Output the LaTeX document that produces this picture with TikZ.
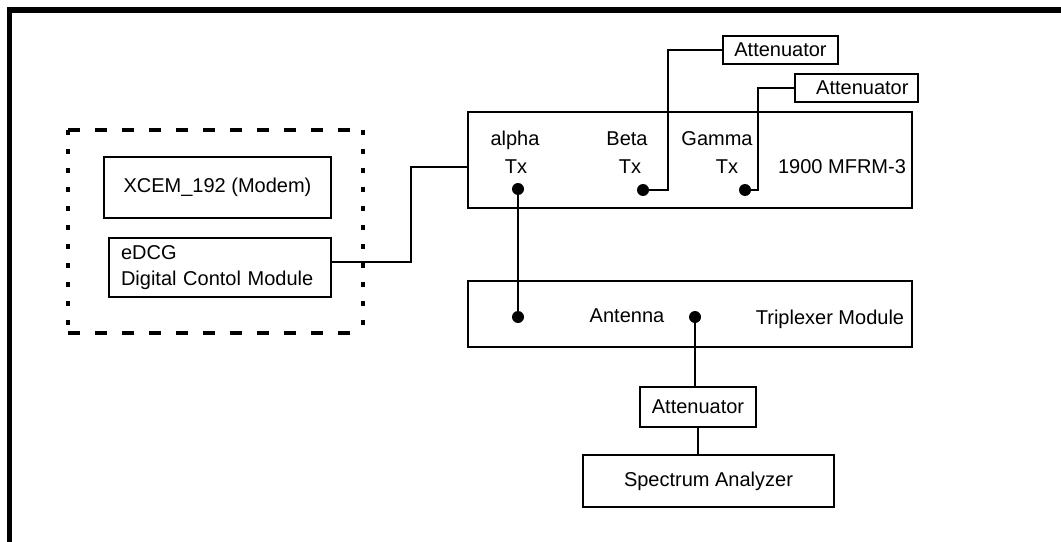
\documentclass[tikz,border=0pt]{standalone}
\usepackage{fontspec}
\setmainfont{Liberation Sans}
\usepackage{tikz}

\begin{document}
\begin{tikzpicture}[x=0.75pt,y=0.75pt,yscale=-1,xscale=1,
  every node/.style={font=\fontsize{15}{19.5}\selectfont},
  unit/.style={draw, line width=1.2pt, inner sep=0pt},
  port/.style={circle, fill, inner sep=0pt, minimum size=9pt},
  wire/.style={line width=1.2pt}]
\useasboundingbox (0,0) rectangle (1061,542);

%Shape: Frame
\fill (7,7) rectangle (1061,13);
\fill (7,7) rectangle (12,542);

%Shape: Dashed box
\draw [line width=2.6pt, dash pattern=on 9pt off 11.25pt] (68,130) -- (363,130) (68,333) -- (363,333);
\draw [line width=2.6pt, dash pattern=on 3.75pt off 10.5pt] (68,130) -- (68,333) (363,130) -- (363,333);

%Shape: Rectangle
\node [unit, minimum width=170.25pt, minimum height=45.75pt] (xcem) at (217.5,187.5) {XCEM\_192 (Modem)};
%Shape: Rectangle
\node [unit, minimum width=166.5pt, minimum height=44.25pt, inner xsep=9pt, text width=148.5pt, align=left] (edcg) at (220,267.5) {eDCG\\Digital Contol Module};
%Shape: Rectangle
\node [unit, minimum width=333pt, minimum height=72pt] (mfrm) at (690,160) {};
%Shape: Rectangle
\node [unit, minimum width=333pt, minimum height=49.5pt] (trip) at (690,314) {};
%Shape: Rectangle
\node [unit, minimum width=86.25pt, minimum height=21pt] (att1) at (780.5,50) {Attenuator};
%Shape: Rectangle
\node [unit, minimum width=92.25pt, minimum height=21pt, text width=78pt, align=right] (att2) at (856.5,88) {Attenuator};
%Shape: Rectangle
\node [unit, minimum width=87pt, minimum height=30pt] (att3) at (698,407) {Attenuator};
%Shape: Rectangle
\node [unit, minimum width=188.25pt, minimum height=39pt] (spec) at (708.5,481) {Spectrum Analyzer};

% Text Node
\node [anchor=base] (alpha) at (515,146) {alpha};
\node [anchor=base] (alphatx) at (516,173) {Tx};
% Text Node
\node [anchor=base] (beta) at (627,146) {Beta};
\node [anchor=base] (betatx) at (630,173) {Tx};
% Text Node
\node [anchor=base] (gamma) at (717,146) {Gamma};
\node [anchor=base] (gammatx) at (727,173) {Tx};
% Text Node
\node [anchor=base] (mfrmlbl) at (842,173) {1900 MFRM-3};
% Text Node
\node [anchor=base] (antenna) at (627,322) {Antenna};
\node [anchor=base] (triplbl) at (830,324) {Triplexer Module};

%Shape: Circle
\node [port] (adot) at (518,189) {};
\node [port] (bdot) at (643,190) {};
\node [port] (gdot) at (745,190) {};
\node [port] (tdot) at (518,317) {};
\node [port] (ndot) at (695,317) {};

%Straight Lines
\draw [wire] ([yshift=-4.1pt]edcg.east) -- ++(79,0) |- ([yshift=5.25pt]mfrm.west);
\draw [wire] (adot) -- (tdot);
\draw [wire] (bdot.center) -- ++(25,0) |- (att1.west);
\draw [wire] (gdot.center) -- ++(13,0) |- (att2.west);
\draw [wire] (ndot) -- (ndot |- att3.north);
\draw [wire] (att3.south) -- (att3.south |- spec.north);

\end{tikzpicture}
\end{document}
